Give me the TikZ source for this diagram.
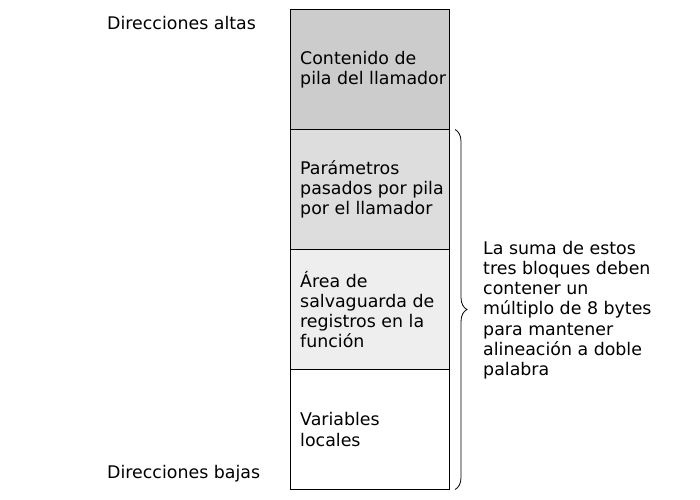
\documentclass[tikz,border=0pt]{standalone}
\usepackage{fontspec}
\setmainfont{DejaVu Sans}
\usepackage{tikz}
\usepackage{xcolor}
\usetikzlibrary{positioning,decorations.pathreplacing}

\definecolor{slotdark}{HTML}{CCCCCC}
\definecolor{slotmid}{HTML}{DDDDDD}
\definecolor{slotlight}{HTML}{EEEEEE}

\tikzset{
  slot/.style={draw, line width=0.8bp, minimum width=159bp, minimum height=120bp, inner sep=0pt, outer sep=0pt},
  slottext/.style={anchor=west, align=left, inner sep=0pt},
  sidetext/.style={anchor=west, align=left, inner sep=0pt}
}

\begin{document}
\begin{tikzpicture}[x=1bp, y=-1bp, font=\fontsize{17.4bp}{20.2bp}\selectfont]
\useasboundingbox (0,0) rectangle (700,500);

\node[slot, fill=slotdark, anchor=north west] (caller) at (290,9.5) {};
\node[slot, fill=slotmid, below=0pt of caller] (params) {};
\node[slot, fill=slotlight, below=0pt of params] (saved) {};
\node[slot, fill=white, below=0pt of saved] (locals) {};

\node[slottext] (callertxt) at ([xshift=10bp]caller.west) {Contenido de\\pila del llamador};
\node[slottext] (paramstxt) at ([xshift=10bp]params.west) {Parámetros\\pasados por pila\\por el llamador};
\node[slottext] (savedtxt) at ([xshift=10bp]saved.west) {Área de\\salvaguarda de\\registros en la\\función};
\node[slottext] (localstxt) at ([xshift=10bp]locals.west) {Variables\\locales};

\node[sidetext] (high) at (107,23) {Direcciones altas};
\node[sidetext] (low) at (107,474) {Direcciones bajas};

% brace over the three lower blocks
\coordinate (bracetop) at ([xshift=6bp]params.north east);
\coordinate (bracebot) at ([xshift=6bp]locals.south east);
\draw[line width=0.8bp, decorate, decoration={brace, amplitude=12bp}] (bracetop) -- (bracebot)
  coordinate[midway] (bracemid);

\node[sidetext] (note) at (483,310) {La suma de estos\\tres bloques deben\\contener un\\múltiplo de 8 bytes\\para mantener\\alineación a doble\\palabra};

\end{tikzpicture}
\end{document}
